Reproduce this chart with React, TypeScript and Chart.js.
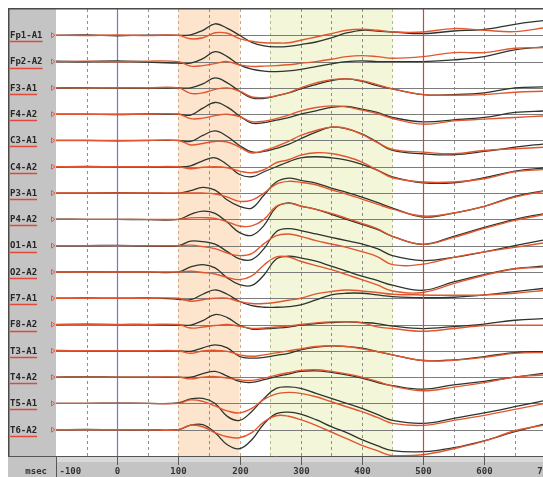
import React, { useEffect, useRef } from "react";
import { Chart, registerables } from "chart.js";

Chart.register(...registerables);

// ---- data ----
const TIMES = [-100, -50, 0, 50, 100, 120, 140, 160, 180, 200, 220, 240, 260, 280, 300, 325, 350, 375, 400, 425, 450, 500, 550, 600, 650, 700];
const CHANNELS = ["Fp1-A1", "Fp2-A2", "F3-A1", "F4-A2", "C3-A1", "C4-A2", "P3-A1", "P4-A2", "O1-A1", "O2-A2", "F7-A1", "F8-A2", "T3-A1", "T4-A2", "T5-A1", "T6-A2"];
const X_TICKS = [-100, 0, 100, 200, 300, 400, 500, 600, 700];
const X_UNIT = "msec";

// black trace (µV, up = positive)
const FP1_BLACK = [0, 0.3, -0.5, 0.2, 0, 0.5, 5, 11.5, 7, 0, -7, -10.5, -11.5, -11, -9.3, -6.7, -2.7, 2.3, 5, 4.3, 3.3, 1.7, 4.3, 6, 11, 15];
const FP2_BLACK = [0.5, 0, 0.8, -0.5, -1.5, -1.5, 3, 10, 5, -3.3, -7.5, -9.5, -10, -9.3, -7.7, -5, -2.3, 0, 0.7, 0, 0, 0, 1.7, 5, 11.7, 15];
const F3_BLACK = [0, 0.3, 0, -0.3, 0, 0, 4, 10, 5, -3.3, -10, -10.5, -8, -5, -1, 3.3, 7.3, 9, 6.7, 2.3, -1, -6.7, -6.7, -5, 0, 1];
const F4_BLACK = [0, 0, -0.3, 0.2, 0, -1, 6, 11.7, 7, -1.7, -9, -8.5, -6, -3.5, 0, 3.3, 6.7, 7.7, 5, 1.7, -3.3, -7.7, -5.7, -3.3, 1.7, 3.3];
const C3_BLACK = [0, 0, -0.3, 0, 0, -1, 5, 9.5, 4, -5, -11.5, -11, -8, -4, 1.7, 8.3, 13.3, 11.7, 6.7, -1.7, -10, -13.3, -14.3, -11, -6.7, -3.3];
const C4_BLACK = [0, 0.3, 0, 0, 0, 1, 6, 9, 2, -7.7, -10, -5, 0, 5, 9, 10, 9, 6.7, 2.3, -3.3, -10, -16, -16, -11, -4.3, -1];
const P3_BLACK = [0, 0, 0.3, 0, 0, 2.5, 5.7, 3, -7, -13.3, -15, -2, 11, 15, 12.7, 10, 5, 0.7, -4, -9.3, -15, -24, -20, -13.3, -3.3, 2.7];
const P4_BLACK = [0.3, 0, 0, -0.3, 0, 5, 8.3, 6, -3, -13.3, -16, -6, 12, 16.5, 13.3, 10, 5, 0, -5, -10, -17, -25, -17, -8, 0, 6];
const O1_BLACK = [0, 0, 0.3, -0.3, 0, 4.5, 4, 1.5, -6, -13.3, -14, -3, 14, 17, 15, 11.7, 8.3, 5, 1.7, -3, -10, -15, -11.7, -6.3, 0, 6];
const O2_BLACK = [0, 0.3, 0, 0, 0, 5, 7.3, 4, -6, -12.7, -13.5, -3, 13, 15.7, 14, 10.7, 5.7, 0.7, -4.3, -8.5, -13.3, -18.3, -10, -2.7, 3.3, 6];
const F7_BLACK = [0, 0.3, 0, 0.3, -1, -1.5, 4, 8.3, 4, -3.3, -7.5, -9, -9, -8.3, -6.7, -1.7, 3.3, 5, 5, 3.3, 1.7, 0.5, 1, 3.3, 6.7, 10];
const F8_BLACK = [0, 0.3, 0, 0, -0.5, -0.5, 4, 10, 7, -0.7, -4.5, -4.2, -3.5, -2.5, -0.7, 1, 2, 2.7, 2, 1, -1.5, -4, -2, 0.5, 4.3, 6];
const T3_BLACK = [0.3, 0, 0, 0, 0, -0.5, 3, 6, 3, -5.7, -7.3, -6.5, -4.5, -2.5, 1, 3.7, 5, 4.3, 2.7, -0.7, -4, -9.7, -9, -5.7, -1.7, -0.7];
const T4_BLACK = [0, 0.3, 0, 0, 0, 0, 3.5, 5.7, 1, -4.3, -5.3, -2.5, 0.5, 3, 5.7, 6.3, 4.7, 2.3, -1, -5.3, -8.5, -12, -7.7, -4.3, 0, 4];
const T5_BLACK = [0, 0, 0.3, 0, 0.5, 4.5, 5, 0, -13, -17, -8, 5, 15, 16.5, 15, 10, 5, 0, -5, -11, -17, -20, -15, -9.5, -3.3, 3];
const T6_BLACK = [0, 0.3, 0, 0, 0, 4.5, 5, -3, -15, -19, -10, 6, 16, 17.5, 15.5, 10, 3, -3, -10, -16, -21, -22, -18, -11, -2, 6];

// red trace (µV, up = positive)
const FP1_RED = [0, -0.2, 0.3, -0.3, 0, -3.5, -2.5, 2.5, 2, -3.3, -6, -7.5, -7.7, -7.5, -5, -1.7, 1.7, 5, 6, 5, 3.3, 3.3, 6.7, 5, 3.7, 7.7];
const FP2_RED = [0, 0.5, -0.3, 0.5, 0, -4.5, -4, -2, 0, -3.3, -4.8, -4.5, -4, -3.2, -1.7, 0, 2.3, 5, 6, 5, 3.3, 5, 9, 9, 13.3, 14];
const F3_RED = [0, 0, 0.2, 0, 0, -5.5, -5, -1.5, 0, -3.3, -9, -9.7, -8, -5, 0, 5, 8.3, 9, 7.3, 3.3, -1, -6.7, -7.3, -6.7, -4.3, -3.3];
const F4_RED = [0, 0, 0, 0, 0, -4.5, -4, -1.5, 0, -2.3, -7.5, -7, -4.5, -1, 3.3, 6.7, 8.3, 7.3, 4, 0.7, -4.3, -10, -6.7, -5, -3.3, -1.7];
const C3_RED = [0, 0, 0, 0, 0, -4.5, -3, -1, -1.5, -6.7, -12.5, -10, -6, -1, 5, 10, 13.3, 12, 6, -2, -9, -11.7, -13.3, -10, -8.3, -6.7];
const C4_RED = [0, 0, 0, 0, 0, -2, -0.5, 0, -1, -4.3, -6, -3, 4, 7, 11.7, 14, 13.3, 10, 4.7, -3.3, -11, -15.3, -15.3, -12, -5, -2.7];
const P3_RED = [0, 0, 0, 0, 0, 0, 0, -1, -4, -8.3, -7, 0, 9, 11.7, 10.7, 8.3, 3.3, -1, -6, -11, -16, -23, -20, -13.3, -4, 2];
const P4_RED = [0, 0, 0, 0, 0, 1.5, 1.7, 1, -2.5, -6.7, -6.5, 0, 13, 16, 13.3, 10, 6, 1, -4, -9.3, -17, -25, -18, -9, -1, 5];
const O1_RED = [0, 0, 0, 0, 0, 0.5, -1, -3, -7.5, -10, -8, 2, 10, 11.7, 9.3, 5, 1.7, -1.7, -6, -11, -19, -18.5, -11.7, -6.3, -1.7, 3];
const O2_RED = [0, 0, 0, 0, 0, 0.7, -0.5, -2, -5.5, -7.7, -4, 7, 15, 15, 10.7, 6.3, 2.3, -2.7, -7.7, -13, -19, -20.5, -11.7, -3.3, 3, 5];
const F7_RED = [0, 0, 0, 0, 0, -3, -1.5, 0, 0, -3.3, -5.3, -5.3, -4, -2, 0, 4.3, 6.7, 8.3, 7.3, 5.7, 4, 3.3, 3, 3.3, 5, 8];
const F8_RED = [0, 0, 0, 0, 0, -3.5, -2.5, -1, 0, -1.7, -3.8, -3.5, -2.5, -1.5, 0, 1.7, 2.7, 2.7, 1.7, -2.3, -4, -6.7, -4, -1, -0.7, -0.7];
const T3_RED = [0, 0, 0, 0, 0, -2.5, 0, 0.5, -0.5, -4, -5.5, -4, -2, 0, 2, 4.3, 5, 4.3, 2, -0.7, -4, -9.7, -9.5, -6.5, -2.5, -1.7];
const T4_RED = [0, 0, 0, 0, 0, -1.8, 0, 0.5, -1, -2.7, -3.3, -1, 2, 4.5, 6.7, 7.3, 5.7, 3.3, 0, -4.3, -9, -13.7, -10, -5.5, 0, 2.3];
const T5_RED = [0, 0, 0, 0, 0, 3.5, 2, -2.5, -7.5, -9.5, -5, 4, 9.5, 11, 10, 6.7, 1.7, -3.3, -8.3, -14, -20, -22, -17, -12, -6, 0];
const T6_RED = [0, 0, 0, 0, 0, 4.5, 3, -3, -7, -8, -3, 8, 14, 13.5, 10, 4.3, -2.3, -9, -15.7, -21, -26, -25, -19, -11.5, -1, 5];

const BLACK_SERIES = [FP1_BLACK, FP2_BLACK, F3_BLACK, F4_BLACK, C3_BLACK, C4_BLACK, P3_BLACK, P4_BLACK, O1_BLACK, O2_BLACK, F7_BLACK, F8_BLACK, T3_BLACK, T4_BLACK, T5_BLACK, T6_BLACK];
const RED_SERIES = [FP1_RED, FP2_RED, F3_RED, F4_RED, C3_RED, C4_RED, P3_RED, P4_RED, O1_RED, O2_RED, F7_RED, F8_RED, T3_RED, T4_RED, T5_RED, T6_RED];

const UV_PER_ROW = 26.3;
const X_MIN = -100;
const X_MAX = 696;
const BAND_A = [100, 200];
const BAND_B = [250, 450];

const W = 535;
const H = 469;

function toPoints(vals: number[], row: number) {
  return TIMES.map((t, k) => ({ x: t, y: row + 1 - vals[k] / UV_PER_ROW }));
}

const eegPlugin = {
  id: "eegDecor",
  beforeDatasetsDraw(chart: any) {
    const { ctx, chartArea: a, scales } = chart;
    const xs = scales.x;
    const ys = scales.y;
    ctx.save();
    ctx.fillStyle = "#ffffff";
    ctx.fillRect(a.left, a.top, a.right - a.left, a.bottom - a.top);
    const x1 = xs.getPixelForValue(BAND_A[0]);
    const x2 = xs.getPixelForValue(BAND_A[1]);
    ctx.fillStyle = "#fde5cd";
    ctx.fillRect(x1, a.top, x2 - x1, a.bottom - a.top);
    const x3 = xs.getPixelForValue(BAND_B[0]);
    const x4 = xs.getPixelForValue(BAND_B[1]);
    ctx.fillStyle = "#f3f6d8";
    ctx.fillRect(x3, a.top, x4 - x3, a.bottom - a.top);

    ctx.lineWidth = 1;
    ctx.setLineDash([3, 3]);
    for (let t = -50; t < X_MAX; t += 50) {
      if (t === 0 || t === 500) continue;
      const x = Math.round(xs.getPixelForValue(t)) + 0.5;
      if (t === BAND_A[0] || t === BAND_A[1]) ctx.strokeStyle = "#d6a476";
      else if (t === BAND_B[0] || t === BAND_B[1]) ctx.strokeStyle = "#b4bc86";
      else ctx.strokeStyle = "#8e8e8e";
      ctx.beginPath();
      ctx.moveTo(x, a.top);
      ctx.lineTo(x, a.bottom);
      ctx.stroke();
    }
    ctx.setLineDash([]);

    ctx.strokeStyle = "#7c7c7c";
    ctx.lineWidth = 1;
    CHANNELS.forEach((_, i) => {
      const y = Math.round(ys.getPixelForValue(i + 1)) + 0.5;
      ctx.beginPath();
      ctx.moveTo(a.left, y);
      ctx.lineTo(a.right, y);
      ctx.stroke();
    });

    const x0 = Math.round(xs.getPixelForValue(0)) + 0.5;
    ctx.strokeStyle = "#7474d4";
    ctx.lineWidth = 1.2;
    ctx.beginPath();
    ctx.moveTo(x0, a.top);
    ctx.lineTo(x0, a.bottom);
    ctx.stroke();
    ctx.restore();
  },
  afterDatasetsDraw(chart: any) {
    const { ctx, chartArea: a, scales } = chart;
    const x5 = Math.round(scales.x.getPixelForValue(500)) + 0.5;
    ctx.save();
    ctx.strokeStyle = "#c8483c";
    ctx.lineWidth = 1.2;
    ctx.beginPath();
    ctx.moveTo(x5, a.top);
    ctx.lineTo(x5, a.bottom);
    ctx.stroke();
    ctx.restore();
  },
  afterDraw(chart: any) {
    const { ctx, chartArea: a, scales } = chart;
    const xs = scales.x;
    const ys = scales.y;
    ctx.save();
    // left label panel
    ctx.fillStyle = "#c4c4c4";
    ctx.fillRect(0, 0, a.left, a.bottom);
    // frame
    ctx.strokeStyle = "#4a4a4a";
    ctx.lineWidth = 1.5;
    ctx.beginPath();
    ctx.moveTo(0, 0.75);
    ctx.lineTo(W, 0.75);
    ctx.moveTo(0.75, 0);
    ctx.lineTo(0.75, H);
    ctx.stroke();

    // channel labels
    ctx.font = "bold 9px 'DejaVu Sans Mono', monospace";
    ctx.textBaseline = "middle";
    ctx.textAlign = "left";
    CHANNELS.forEach((name, i) => {
      const y = ys.getPixelForValue(i + 1);
      ctx.fillStyle = "#262626";
      ctx.fillText(name, 2, y + 0.5);
      const w = ctx.measureText(name).width;
      ctx.strokeStyle = "#e0483c";
      ctx.lineWidth = 1.5;
      ctx.beginPath();
      ctx.moveTo(2, Math.round(y) + 6.5);
      ctx.lineTo(2 + w, Math.round(y) + 6.5);
      ctx.stroke();
      // triangle marker
      ctx.lineWidth = 1;
      ctx.strokeStyle = "#e4584c";
      ctx.beginPath();
      ctx.moveTo(43.5, y - 2.5);
      ctx.lineTo(47, y);
      ctx.lineTo(43.5, y + 2.5);
      ctx.closePath();
      ctx.stroke();
    });

    // x axis strip
    const top = a.bottom;
    ctx.fillStyle = "#c4c4c4";
    ctx.fillRect(0, top, W, H - top);
    ctx.fillStyle = "#d9d9d9";
    ctx.fillRect(a.left, top + 1, a.right - a.left, 5);
    ctx.strokeStyle = "#555555";
    ctx.lineWidth = 1;
    ctx.beginPath();
    ctx.moveTo(0, top + 0.5);
    ctx.lineTo(W, top + 0.5);
    ctx.moveTo(a.left + 0.5, top);
    ctx.lineTo(a.left + 0.5, H);
    ctx.stroke();

    ctx.strokeStyle = "#5a5a5a";
    ctx.lineWidth = 1;
    ctx.font = "bold 9px 'DejaVu Sans Mono', monospace";
    ctx.textBaseline = "middle";
    ctx.fillStyle = "#333333";
    X_TICKS.forEach((t) => {
      const x = Math.round(xs.getPixelForValue(t)) + 0.5;
      ctx.beginPath();
      ctx.moveTo(x, top + 1);
      ctx.lineTo(x, top + 9);
      ctx.stroke();
      if (t === X_MIN) {
        ctx.textAlign = "left";
        ctx.fillText(String(t), x + 3, top + 16);
      } else {
        ctx.textAlign = "center";
        ctx.fillText(String(t), x, top + 16);
      }
    });
    ctx.textAlign = "right";
    ctx.fillText(X_UNIT, 39, top + 16);
    ctx.restore();
  },
};

export default function App() {
  const ref = useRef<HTMLCanvasElement | null>(null);
  useEffect(() => {
    if (!ref.current) return;
    const datasets: any[] = [];
    RED_SERIES.forEach((vals, i) => {
      datasets.push({
        label: CHANNELS[i] + " red",
        data: toPoints(vals, i),
        borderColor: "#e2562f",
        borderWidth: 1.4,
        pointRadius: 0,
        tension: 0.4,
        fill: false,
      });
    });
    BLACK_SERIES.forEach((vals, i) => {
      datasets.push({
        label: CHANNELS[i] + " black",
        data: toPoints(vals, i),
        borderColor: "#2c342c",
        borderWidth: 1.3,
        pointRadius: 0,
        tension: 0.4,
        fill: false,
      });
    });
    const chart = new Chart(ref.current, {
      type: "line",
      data: { datasets },
      options: {
        animation: false,
        responsive: false,
        devicePixelRatio: 1,
        layout: { padding: { left: 48, right: 0, top: 1, bottom: 21 } },
        scales: {
          x: { type: "linear", min: X_MIN, max: X_MAX, display: false },
          y: { type: "linear", min: 0, max: CHANNELS.length + 1, reverse: true, display: false },
        },
        plugins: { legend: { display: false }, tooltip: { enabled: false } },
      },
      plugins: [eegPlugin],
    } as any);
    return () => chart.destroy();
  }, []);
  return (
    <div style={{ position: "fixed", left: 8, top: 8, width: W, height: H, overflow: "hidden" }}>
      <canvas ref={ref} width={W} height={H} style={{ display: "block", width: W, height: H }} />
    </div>
  );
}
